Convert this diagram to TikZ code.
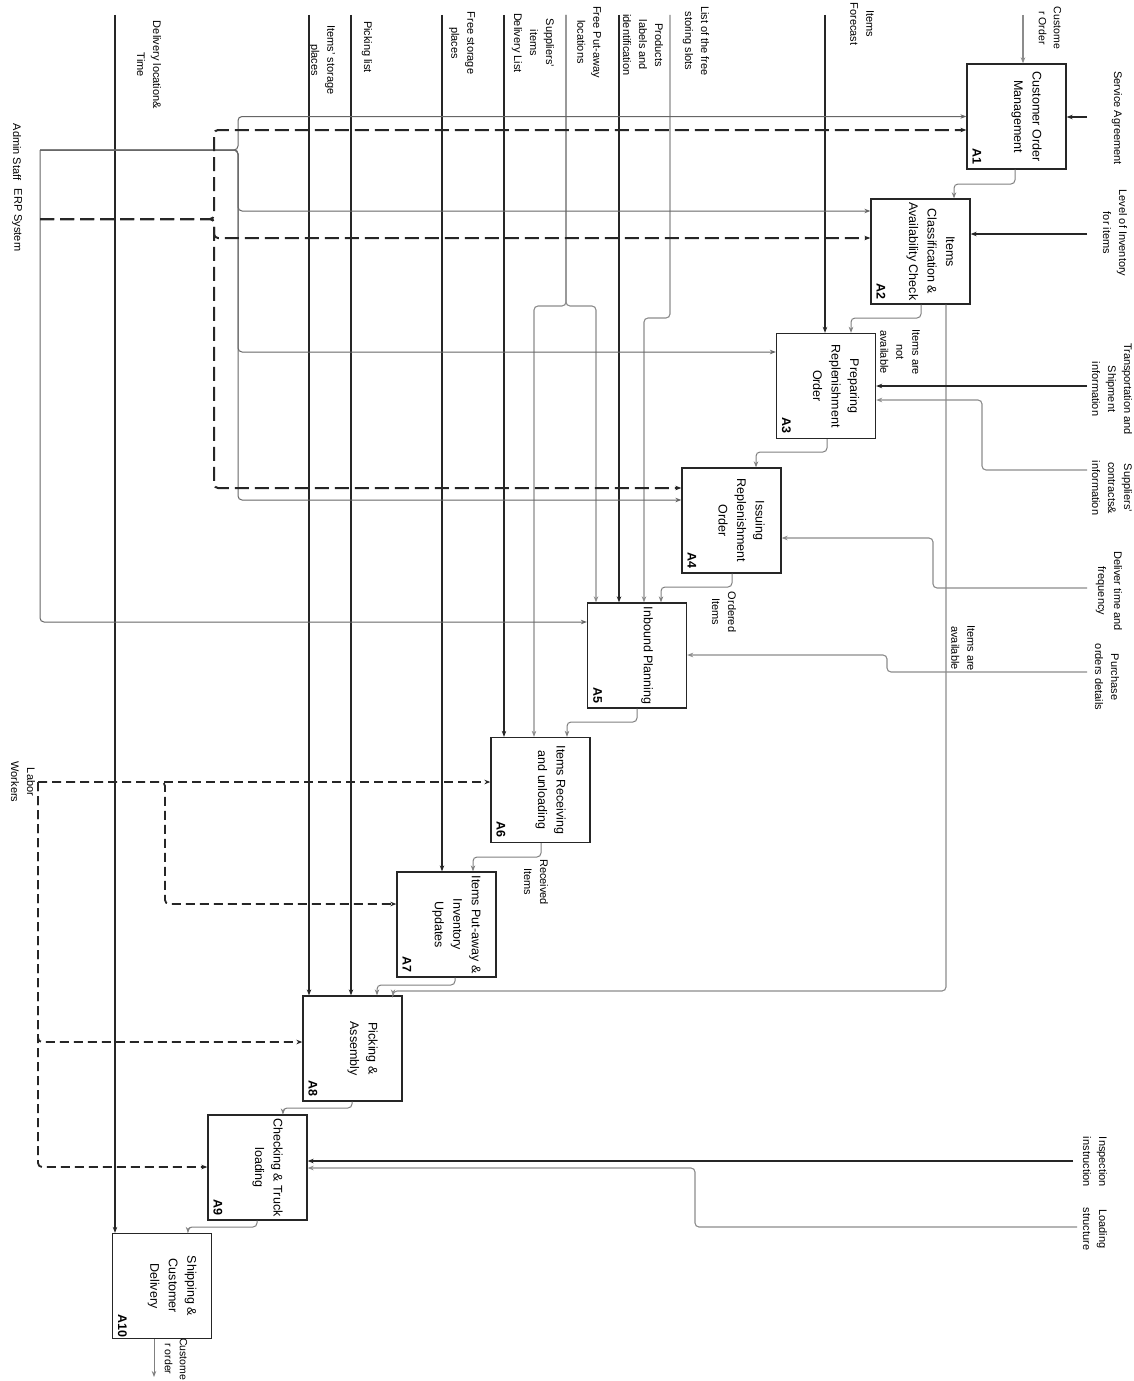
\documentclass[tikz,border=0pt]{standalone}
\usepackage{fontspec}
\setmainfont{Liberation Sans}
\usetikzlibrary{arrows.meta,positioning,calc}

\begin{document}
\begin{tikzpicture}[x=1pt,y=-1pt,
    proc/.style={draw=black!85, fill=white, line width=1.3pt, minimum width=99pt, minimum height=105pt, inner sep=0pt},
    ptext/.style={rotate=-90, align=center, font=\fontsize{12.5}{18.5}\selectfont},
    pnum/.style={rotate=-90, font=\fontsize{12.5}{15}\selectfont\bfseries},
    lbl/.style={rotate=-90, align=center, font=\fontsize{11}{16}\selectfont},
    cutlbl/.style={rotate=-90, align=center, font=\fontsize{10.5}{15}\selectfont},
    arw/.style={line width=1.1pt, draw=black!85, rounded corners=4pt, -{Stealth[length=6pt,width=4.5pt]}},
    gry/.style={arw, draw=black!45},
    lnk/.style={arw, draw=black!50, line width=1pt},
    adm/.style={arw, draw=black!60, line width=1pt},
    erp/.style={arw, line width=2pt, dash pattern=on 14pt off 6pt},
    lab/.style={arw, line width=1.8pt, dash pattern=on 9pt off 5pt}]

  \fill[white] (0,0) rectangle (1134,1381);
  \useasboundingbox (0,0) rectangle (1134,1381);

  % Activity boxes
  \foreach \i/\cx/\cy/\txt in {
      1/1016.5/116.5/{Customer Order\\Management},
      2/920.5/251.5/{Items\\Classification \&\\Availability Check},
      3/826/386/{Preparing\\Replenishment\\Order},
      4/731.5/520.5/{Issuing\\Replenishment\\Order},
      5/637/655.5/{Inbound Planning},
      6/540.5/790/{Items Receiving\\and unloading},
      7/446.5/924.5/{Items Put-away \&\\Inventory\\Updates},
      8/352.5/1048.5/{Picking \&\\Assembly},
      9/257.5/1167.5/{Checking \& Truck\\loading},
      10/162/1286/{Shipping \&\\Customer\\Delivery}}{
    \node[proc] (a\i) at (\cx,\cy) {};
    \node[ptext] (t\i) at (\cx+10,\cy) {\txt};
    \node[pnum] (n\i) at (\cx-39.5,\cy+39.5) {A\i};
  }

  % Box to box outputs
  \foreach \i/\j/\xs/\ym/\xe in {1/2/1015/184/954, 2/3/921/318/851, 3/4/827/452/756,
      4/5/732/587/661, 5/6/637/722/567, 6/7/541/857/473, 7/8/455/985/377,
      8/9/352/1108/283, 9/10/257/1227/188}
    \draw[lnk] (\xs,0 |- a\i.south) -- (\xs,\ym) -| (\xe,0 |- a\j.north);

  \coordinate (oCus) at (154,1377);
  \draw[lnk] (154,0 |- a10.south) -- (oCus);
  \draw[gry] (946,0 |- a2.south) -- (946,991) -| (393,0 |- a8.north);

  \node[lbl] (lNot) at (900,352) {Items are\\not\\available};
  \node[lbl] (lOrd) at (724,612) {Ordered\\Items};
  \node[lbl] (lRec) at (536,882) {Received\\Items};
  \node[lbl] (lAva) at (963,648) {Items are\\available};
  \node[cutlbl] (lOut) at (176,1359) {Custome\\r order};

  % Inputs from the top
  \foreach \n/\x in {Del/115, Sto/309, Pick/351, Free/442, SupL/504, Put/566, Prod/619, Slot/670, For/825, Cus/1023}
    \coordinate (c\n) at (\x,15);

  \node[lbl] (lDel) at (149,65) {Delivery location\&\\Time};
  \node[lbl] (lSto) at (322,60) {Items’ storage\\places};
  \node[lbl] (lPick) at (367,47) {Picking list};
  \node[lbl] (lFree) at (462,43) {Free storage\\places};
  \node[lbl] (lSupL) at (533,43) {Suppliers’\\items\\Delivery List};
  \node[lbl] (lPut) at (589,42) {Free Put-away\\locations};
  \node[lbl] (lProd) at (643,45) {Products\\labels and\\identification};
  \node[lbl] (lSlot) at (696,41) {List of the free\\storing slots};
  \node[lbl] (lFor) at (862,24) {Items\\Forecast};
  \node[cutlbl] (lCus) at (1050,28) {Custome\\r Order};

  \draw[arw] (cDel) -- (cDel |- a10.north);
  \draw[arw] (cSto) -- (cSto |- a8.north);
  \draw[arw] (cPick) -- (cPick |- a8.north);
  \draw[arw] (cFree) -- (cFree |- a7.north);
  \draw[arw] (cSupL) -- (cSupL |- a6.north);
  \draw[gry] (cPut) -- (566,306) -| (534,0 |- a6.north);
  \draw[gry] (cPut) -- (566,306) -| (596,0 |- a5.north);
  \draw[arw] (cProd) -- (cProd |- a5.north);
  \draw[gry] (cSlot) -- (670,318) -| (644,0 |- a5.north);
  \draw[arw] (cFor) -- (cFor |- a3.north);
  \draw[gry] (cCus) -- (cCus |- a1.north);

  % Inputs from the right
  \coordinate (rSer) at (1087,117);
  \coordinate (rInv) at (1087,234);
  \coordinate (rTra) at (1087,386);
  \coordinate (rCon) at (1087,470);
  \coordinate (rDel) at (1087,588);
  \coordinate (rPur) at (1087,672);
  \coordinate (rIns) at (1073,1161);
  \coordinate (rLoa) at (1077,1227);

  \node[lbl] (lSer) at (1117,118) {Service Agreement};
  \node[lbl] (lInv) at (1115,233) {Level of Inventory\\for items};
  \node[lbl] (lTra) at (1112,389) {Transportation and\\Shipment\\information};
  \node[lbl] (lCon) at (1112,488) {Suppliers’\\contracts\&\\information};
  \node[lbl] (lDelT) at (1109,591) {Deliver time and\\frequency};
  \node[lbl] (lPur) at (1107,677) {Purchase\\orders details};
  \node[lbl] (lIns) at (1095,1162) {Inspection\\instruction};
  \node[lbl] (lLoa) at (1095,1229) {Loading\\structure};

  \draw[arw] (rSer) -- (a1.east |- rSer);
  \draw[arw] (rInv) -- (a2.east |- rInv);
  \draw[arw] (rTra) -- (a3.east |- rTra);
  \draw[gry] (rCon) -| (982,400) -- (a3.east |- 0,400);
  \draw[gry] (rDel) -| (933,538) -- (a4.east |- 0,538);
  \draw[gry] (rPur) -| (887,655) -- (a5.east |- 0,655);
  \draw[arw] (rIns) -- (a9.east |- rIns);
  \draw[gry] (rLoa) -| (695,1168) -- (a9.east |- 0,1168);

  % Mechanisms from the left
  \coordinate (mAdm) at (40,150);
  \coordinate (mErp) at (40,219);
  \coordinate (mLab) at (38,782);

  \node[lbl] (lAdm) at (17,152) {Admin Staff};
  \node[lbl] (lErp) at (17,220) {ERP System};
  \node[lbl] (lLab) at (23,782) {Labor\\Workers};

  \draw[adm] (mAdm) -- (238,150) |- (a1.west);
  \draw[adm] (mAdm) -- (238,150) |- (a2.west |- 0,211);
  \draw[adm] (mAdm) -- (238,150) |- (a3.west |- 0,352);
  \draw[adm] (mAdm) -- (238,150) |- (a4.west |- 0,500);
  \draw[adm] (mAdm) |- (a5.west |- 0,622);

  \draw[erp] (mErp) -- (214,219) |- (a1.west |- 0,130);
  \draw[erp] (mErp) -- (214,219) |- (a2.west |- 0,238);
  \draw[erp] (mErp) -- (214,219) |- (a4.west |- 0,488);

  \draw[lab] (mLab) -- (a6.west |- mLab);
  \draw[lab] (mLab) -- (165,782) |- (a7.west |- 0,904);
  \draw[lab] (mLab) |- (a8.west |- 0,1042);
  \draw[lab] (mLab) |- (a9.west |- 0,1167);
\end{tikzpicture}
\end{document}
